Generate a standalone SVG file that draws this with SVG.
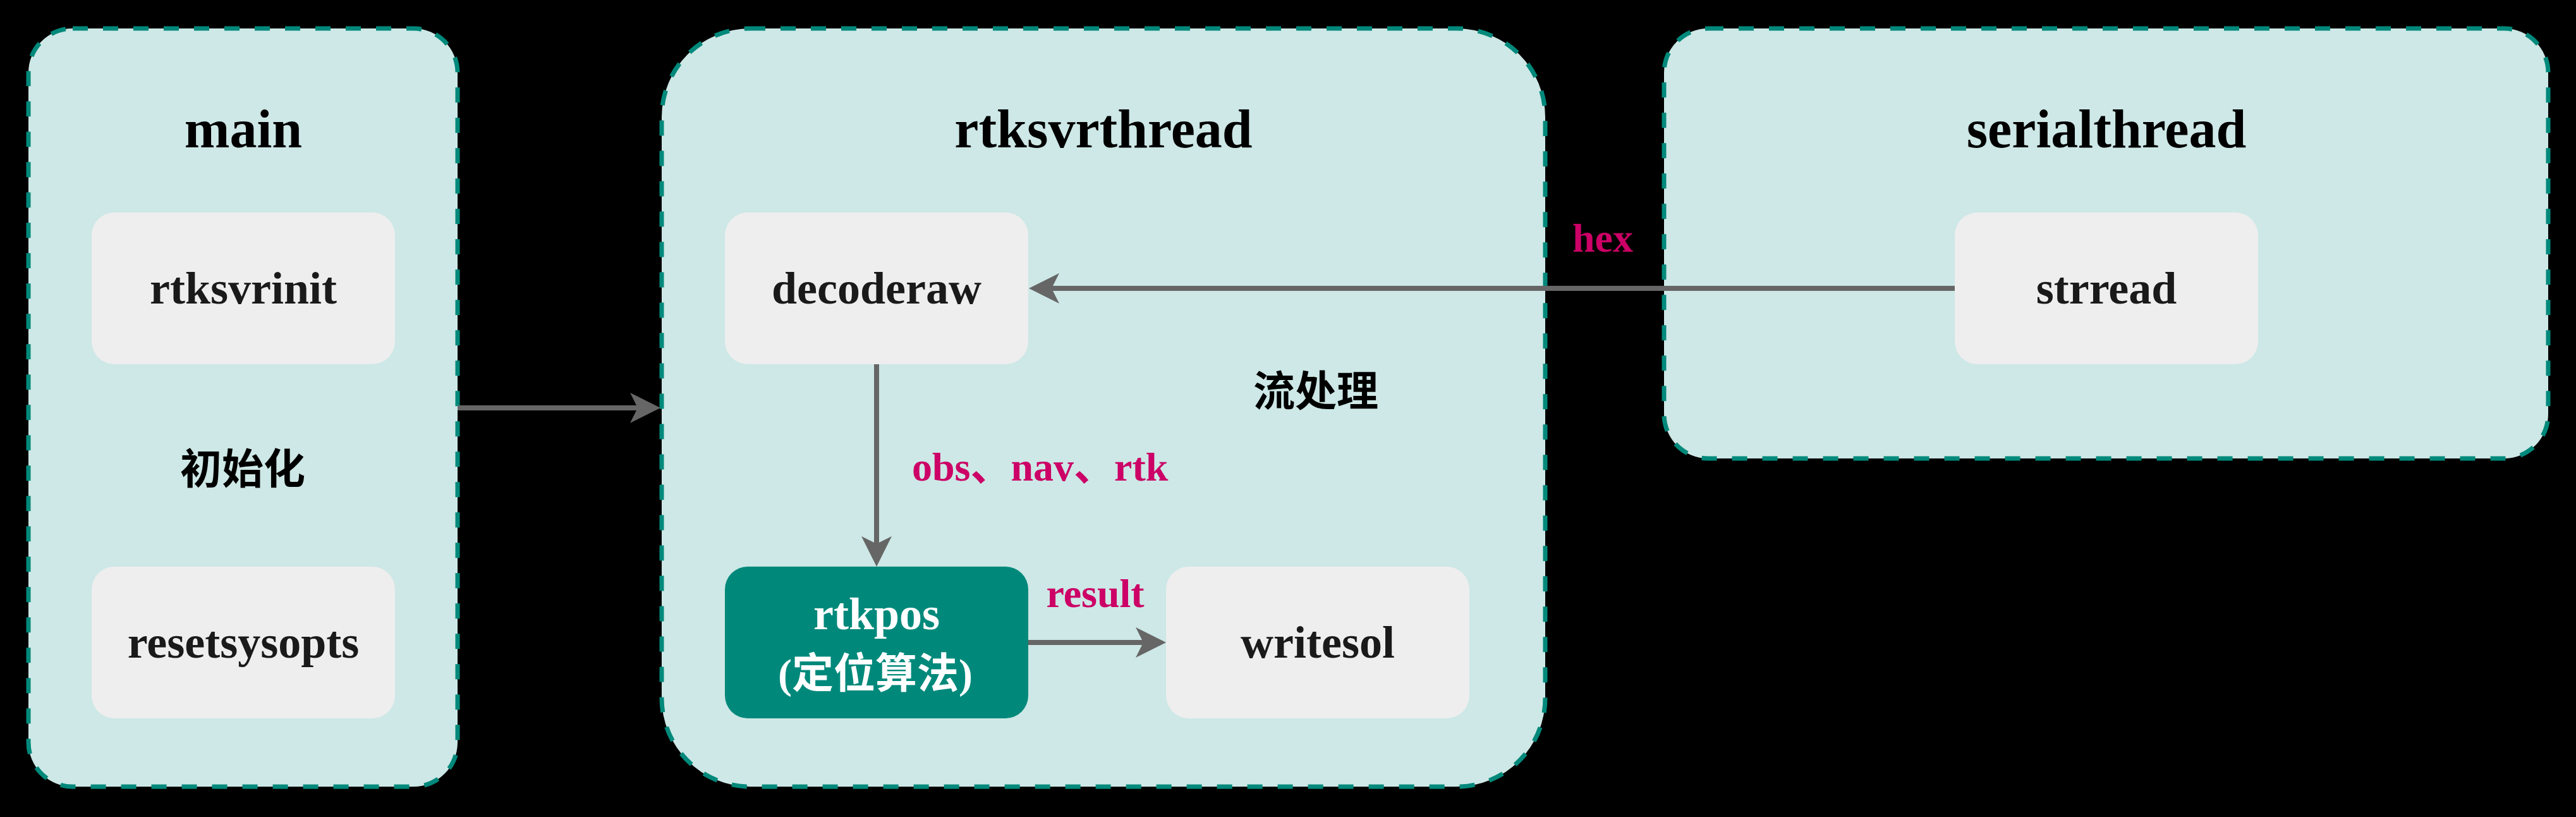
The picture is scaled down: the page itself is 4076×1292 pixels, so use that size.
<svg xmlns="http://www.w3.org/2000/svg" width="4076" height="1292" viewBox="0 0 4076 1292">
<style>
.container{fill:#CDE8E6;stroke:#00897B;stroke-width:7;stroke-dasharray:24 24;}
.node{fill:#EEEEEE;}
.node-main{fill:#00897B;}
.title{font-family:"Liberation Serif","Times New Roman",serif;font-weight:bold;font-size:86px;fill:#000000;text-anchor:middle;}
.ntext{font-family:"Liberation Serif","Times New Roman",serif;font-weight:bold;font-size:72px;fill:#1A1A1A;text-anchor:middle;}
.wtext{font-family:"Liberation Serif","Noto Sans CJK SC",serif;font-weight:bold;fill:#FFFFFF;text-anchor:middle;}
.cjk{font-family:"Noto Sans CJK SC",sans-serif;font-weight:bold;font-size:66px;fill:#000000;text-anchor:middle;}
.label{font-family:"Liberation Serif","Noto Sans CJK SC",serif;font-weight:bold;font-size:64px;fill:#CC0066;}
.edge{fill:none;stroke:#666666;stroke-width:8;}
</style>
<defs>
<marker id="arrow" markerUnits="userSpaceOnUse" markerWidth="48" markerHeight="48" viewBox="0 0 48 48" refX="12" refY="24" orient="auto">
<path d="M0,0 L48,24 L0,48 L12,24 Z" fill="#666666"/>
</marker>
</defs>
<rect width="4076" height="1292" fill="#000000"/>

<g id="main">
<rect class="container" x="45" y="45" width="679" height="1199" rx="70" ry="70"/>
<text class="title" x="385" y="233">main</text>
<text class="cjk" x="384" y="765">初始化</text>
</g>
<g id="rtksvrthread">
<rect class="container" x="1047" y="45" width="1398" height="1199" rx="140" ry="140"/>
<text class="title" x="1746" y="233">rtksvrthread</text>
<text class="cjk" x="2082" y="642">流处理</text>
</g>
<g id="serialthread">
<rect class="container" x="2633" y="45" width="1399" height="680" rx="70" ry="70"/>
<text class="title" x="3333" y="233">serialthread</text>
</g>

<g id="rtksvrinit">
<rect class="node" x="145" y="336" width="480" height="240" rx="36" ry="36"/>
<text class="ntext" x="385" y="480">rtksvrinit</text>
</g>
<g id="resetsysopts">
<rect class="node" x="145" y="896" width="480" height="240" rx="36" ry="36"/>
<text class="ntext" x="385" y="1040">resetsysopts</text>
</g>
<g id="decoderaw">
<rect class="node" x="1147" y="336" width="480" height="240" rx="36" ry="36"/>
<text class="ntext" x="1387" y="480">decoderaw</text>
</g>
<g id="rtkpos">
<rect class="node-main" x="1147" y="896" width="480" height="240" rx="36" ry="36"/>
<text class="wtext" x="1387" y="995" font-size="72">rtkpos</text>
<text class="wtext" x="1385" y="1088" font-size="66" font-family="Noto Sans CJK SC, sans-serif">(定位算法)</text>
</g>
<g id="writesol">
<rect class="node" x="1845" y="896" width="480" height="240" rx="36" ry="36"/>
<text class="ntext" x="2085" y="1040">writesol</text>
</g>
<g id="strread">
<rect class="node" x="3093" y="336" width="480" height="240" rx="36" ry="36"/>
<text class="ntext" x="3333" y="480">strread</text>
</g>

<g id="connectors">
<path class="edge" d="M724,645 H1009" marker-end="url(#arrow)"/>
<path class="edge" d="M3093,456 H1664" marker-end="url(#arrow)"/>
<path class="edge" d="M1387,576 V860" marker-end="url(#arrow)"/>
<path class="edge" d="M1627,1016 H1809" marker-end="url(#arrow)"/>
<text class="label" x="2536" y="398" text-anchor="middle">hex</text>
<text class="label" x="1443" y="760">obs、nav、rtk</text>
<text class="label" x="1733" y="960" text-anchor="middle">result</text>
</g>
</svg>
